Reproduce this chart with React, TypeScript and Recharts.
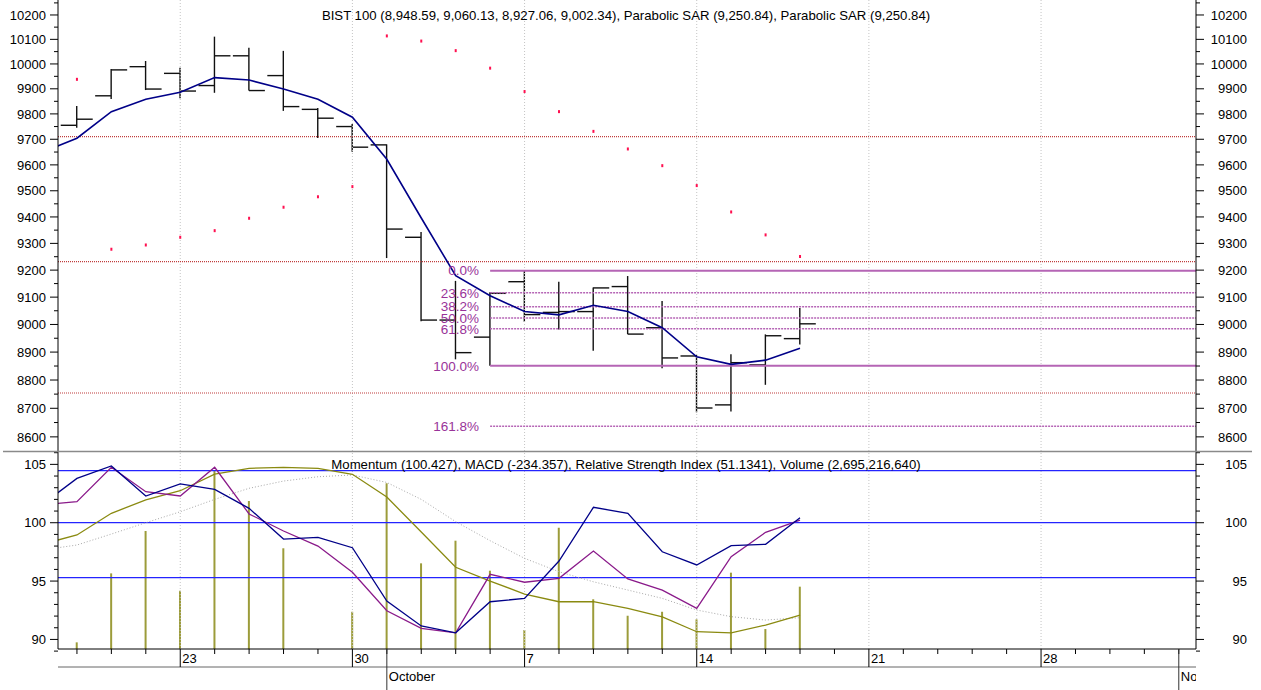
import React from "react";
import { ComposedChart, Line, Bar, Scatter, XAxis, YAxis, ReferenceLine } from "recharts";

// trading day index: 0 = Sep 18, 3 = Sep 23, 9 = Oct 1, 32 = Nov 1
const dayIndex = [-1, 0, 1, 2, 3, 4, 5, 6, 7, 8, 9, 10, 11, 12, 13, 14, 15, 16, 17, 18, 19, 20, 21];
const openPrice = [null, 9755, 9872, 9989, 9962, 9913, 10033, 9953, 9818, 9750, 9678, 9323, 9016, 8954, 9157, 9044, 9047, 9139, 8988, 8886, 8712, 8854, 8948.59];
const highPrice = [null, 9831, 9980, 10012, 9985, 10111, 10066, 10053, 9823, 9760, 9680, 9343, 9160, 9118, 9198, 9157, 9136, 9178, 9086, 8890, 8892, 8964, 9060.13];
const lowPrice = [null, 9745, 9859, 9895, 9862, 9884, 9893, 9812, 9705, 9651, 9245, 9012, 8874, 8851, 9010, 8982, 8905, 8965, 8842, 8686, 8689, 8783, 8927.06];
const closePrice = [null, 9779, 9976, 9899, 9891, 10033, 9893, 9829, 9783, 9669, 9354, 9016, 8898, 9114, 9036, 9047, 9134, 8965, 8879, 8701, 8862, 8959, 9002.34];
const movingAvg = [9650, 9704, 9809, 9858, 9886, 9945, 9935, 9899, 9858, 9787, 9622, 9396, 9179, 9105, 9047, 9035, 9070, 9047, 8988, 8883, 8856, 8871, 8914];
const parabolicSar = [null, 9938, 9278, 9294, 9323, 9348, 9395, 9437, 9477, 9516, 10114, 10093, 10054, 9983, 9889, 9809, 9731, 9662, 9597, 9520, 9419, 9332, 9250.84];

const momentum = [101.57, 103.8, 104.86, 102.29, 103.32, 102.86, 101.23, 98.6, 98.75, 97.86, 93.29, 91.15, 90.57, 93.23, 93.52, 96.72, 101.32, 100.81, 97.51, 96.38, 98.03, 98.15, 100.43];
const rsi = [101.55, 101.8, 104.75, 102.66, 102.29, 104.75, 100.75, 99.29, 98.0, 95.75, 92.46, 90.95, 90.57, 95.58, 94.9, 95.24, 97.57, 95.18, 94.23, 92.66, 97.09, 99.18, 100.23];
const macd = [98.17, 98.95, 100.81, 101.95, 102.74, 104.17, 104.66, 104.75, 104.66, 104.15, 102.2, 99.2, 96.18, 95.0, 93.89, 93.23, 93.23, 92.66, 91.94, 90.66, 90.57, 91.23, 92.09];
const macdSignal = [97.67, 98.09, 99.03, 100.0, 100.94, 102.0, 102.95, 103.57, 103.94, 104.09, 103.45, 102.0, 100.09, 98.46, 96.95, 95.8, 94.94, 94.23, 93.52, 92.52, 91.95, 91.66, 91.86];
const volume = [null, 89.75, 95.66, 99.29, 94.17, 104.46, 101.86, 97.81, null, 92.37, 103.38, 96.52, 98.46, 95.89, 90.81, 99.57, 93.44, 92.03, 92.37, 91.72, 95.72, 90.89, 94.52];

const fibLabels = ["0.0%", "23.6%", "38.2%", "50.0%", "61.8%", "100.0%", "161.8%"];
const fibValues = [9198, 9116, 9065, 9024, 8984, 8851, 8637];
const fibStart = 12;
const pivotLevels = [9710, 9232, 8754];
const bandLevels = [104.46, 100, 95.3];

const priceTicks = [8600, 8650, 8700, 8750, 8800, 8850, 8900, 8950, 9000, 9050, 9100, 9150, 9200, 9250, 9300, 9350, 9400, 9450, 9500, 9550, 9600, 9650, 9700, 9750, 9800, 9850, 9900, 9950, 10000, 10050, 10100, 10150, 10200, 10250];
const indicatorTicks = [89, 90, 91, 92, 93, 94, 95, 96, 97, 98, 99, 100, 101, 102, 103, 104, 105, 106];
const dayTicks = [0, 1, 2, 3, 4, 5, 6, 7, 8, 9, 10, 11, 12, 13, 14, 15, 16, 17, 18, 19, 20, 21, 22, 23, 24, 25, 26, 27, 28, 29, 30, 31, 32];
const weekStarts = [3, 8, 13, 18, 23, 28];
const weekLabels = ["23", "30", "7", "14", "21", "28"];
const monthStarts = [9, 32];
const monthLabels = ["October", "November"];

const priceTitle = "BIST 100 (8,948.59, 9,060.13, 8,927.06, 9,002.34), Parabolic SAR (9,250.84), Parabolic SAR (9,250.84)";
const indicatorTitle = "Momentum (100.427), MACD (-234.357), Relative Strength Index (51.1341), Volume (2,695,216,640)";

const priceData = dayIndex.map((i, k) => ({
  i,
  open: openPrice[k],
  high: highPrice[k],
  low: lowPrice[k],
  close: closePrice[k],
  range: lowPrice[k] == null ? null : [lowPrice[k], highPrice[k]],
  ma: movingAvg[k],
  sar: parabolicSar[k],
}));

const indicatorData = dayIndex.map((i, k) => ({
  i,
  momentum: momentum[k],
  rsi: rsi[k],
  macd: macd[k],
  signal: macdSignal[k],
  volume: volume[k],
}));

const X_DOMAIN: [number, number] = [-0.55, 32.5];
const FONT = 13;

function OhlcShape(props: any) {
  const { x, y, width, height, payload } = props;
  if (payload.high == null || !isFinite(y)) return null;
  const cx = x + width / 2;
  const lh = Math.log(payload.high);
  const ll = Math.log(payload.low);
  const toY = (v: number) => y + ((lh - Math.log(v)) / (lh - ll)) * height;
  const yo = toY(payload.open);
  const yc = toY(payload.close);
  return (
    <g stroke="#111" strokeWidth={1.4}>
      <line x1={cx} x2={cx} y1={y} y2={y + height} />
      <line x1={cx - 16} x2={cx} y1={yo} y2={yo} />
      <line x1={cx} x2={cx + 16} y1={yc} y2={yc} />
    </g>
  );
}

function SarDot(props: any) {
  const { cx, cy, payload } = props;
  if (payload.sar == null || !isFinite(cy)) return null;
  return <rect x={cx - 1} y={cy - 1.5} width={2} height={3} fill="#ff1050" />;
}

const makeYTick = (step: number, side: "left" | "right") => (props: any) => {
  const { x, y, payload } = props;
  const major = payload.value % step === 0;
  const len = major ? 8 : 4;
  const dir = side === "left" ? -1 : 1;
  return (
    <g>
      <line x1={x} x2={x + dir * len} y1={y} y2={y} stroke="#000" />
      {major && (
        <text
          x={side === "left" ? x - 12 : x + 51}
          y={y}
          dy="0.36em"
          textAnchor="end"
          fontSize={FONT}
          fill="#000"
        >
          {payload.value}
        </text>
      )}
    </g>
  );
};

function DayTick(props: any) {
  const { x, y, payload } = props;
  const w = weekStarts.indexOf(payload.value);
  return (
    <g>
      <line x1={x} x2={x} y1={y} y2={y + (w >= 0 ? 18 : 5)} stroke="#000" />
      {w >= 0 && (
        <text x={x + 2} y={y + 14} fontSize={FONT} fill="#000">
          {weekLabels[w]}
        </text>
      )}
    </g>
  );
}

function MonthTick(props: any) {
  const { x, y, payload } = props;
  const m = monthStarts.indexOf(payload.value);
  return (
    <g>
      <line x1={x} x2={x} y1={y - 18} y2={y + 23} stroke="#333" />
      <svg x={x} y={y} width={Math.max(0, 1196 - x)} height={23} overflow="hidden">
        <text x={2} y={14} fontSize={FONT} fill="#000">
          {monthLabels[m]}
        </text>
      </svg>
    </g>
  );
}

export default function App() {
  return (
    <div
      style={{
        position: "absolute",
        left: 0,
        top: 0,
        width: 1261,
        height: 690,
        background: "#fff",
        fontFamily: "'Liberation Sans', Arial, sans-serif",
      }}
    >
      <div style={{ position: "absolute", left: 0, top: 0 }}>
        <ComposedChart width={1261} height={451} data={priceData} margin={{ top: 0, right: 0, bottom: 0, left: 0 }}>
          <XAxis dataKey="i" type="number" domain={X_DOMAIN} allowDataOverflow hide />
          <YAxis
            yAxisId="p"
            orientation="left"
            scale="log"
            domain={[8551, 10262]}
            allowDataOverflow
            ticks={priceTicks}
            interval={0}
            width={58}
            tickSize={0}
            tickMargin={0}
            tickLine={false}
            axisLine={{ stroke: "#000" }}
            tick={makeYTick(100, "left")}
          />
          <YAxis
            yAxisId="pr"
            orientation="right"
            scale="log"
            domain={[8551, 10262]}
            allowDataOverflow
            ticks={priceTicks}
            interval={0}
            width={65}
            tickSize={0}
            tickMargin={0}
            tickLine={false}
            axisLine={{ stroke: "#000" }}
            tick={makeYTick(100, "right")}
          />
          {weekStarts.map((w) => (
            <ReferenceLine key={"g" + w} yAxisId="p" x={w} stroke="#c4c4c4" strokeDasharray="1 2" />
          ))}
          {pivotLevels.map((v) => (
            <ReferenceLine key={"pv" + v} yAxisId="p" y={v} stroke="#c03c3c" strokeWidth={1.2} strokeDasharray="1 1" />
          ))}
          {fibValues.map((v, k) => {
            const solid = fibLabels[k] === "0.0%" || fibLabels[k] === "100.0%";
            return (
              <ReferenceLine
                key={"f" + k}
                yAxisId="p"
                segment={[
                  { x: fibStart, y: v },
                  { x: X_DOMAIN[1], y: v },
                ]}
                stroke="#b565b5"
                strokeWidth={solid ? 2 : 1.5}
                strokeDasharray={solid ? undefined : "2 1"}
                label={{ value: fibLabels[k], position: "left", offset: 11, fill: "#993399", fontSize: 13.5 }}
              />
            );
          })}
          <Bar yAxisId="p" dataKey="range" barSize={32} shape={<OhlcShape />} isAnimationActive={false} />
          <Line yAxisId="p" type="linear" dataKey="ma" stroke="#000088" strokeWidth={1.6} dot={false} isAnimationActive={false} />
          <Scatter yAxisId="p" dataKey="sar" shape={<SarDot />} isAnimationActive={false} />
        </ComposedChart>
      </div>
      <div style={{ position: "absolute", left: 0, top: 451 }}>
        <ComposedChart width={1261} height={239} data={indicatorData} margin={{ top: 1, right: 0, bottom: 0, left: 0 }}>
          <XAxis
            xAxisId="d"
            dataKey="i"
            type="number"
            domain={X_DOMAIN}
            allowDataOverflow
            ticks={dayTicks}
            interval={0}
            height={18}
            tickSize={0}
            tickMargin={0}
            tickLine={false}
            axisLine={{ stroke: "#000" }}
            tick={<DayTick />}
          />
          <XAxis
            xAxisId="m"
            dataKey="i"
            type="number"
            domain={X_DOMAIN}
            allowDataOverflow
            ticks={monthStarts}
            interval={0}
            height={23}
            tickSize={0}
            tickMargin={0}
            tickLine={false}
            axisLine={{ stroke: "#666" }}
            tick={<MonthTick />}
          />
          <YAxis
            yAxisId="v"
            orientation="left"
            domain={[89.18, 106.06]}
            allowDataOverflow
            ticks={indicatorTicks}
            interval={0}
            width={58}
            tickSize={0}
            tickMargin={0}
            tickLine={false}
            axisLine={{ stroke: "#000" }}
            tick={makeYTick(5, "left")}
          />
          <YAxis
            yAxisId="vr"
            orientation="right"
            domain={[89.18, 106.06]}
            allowDataOverflow
            ticks={indicatorTicks}
            interval={0}
            width={65}
            tickSize={0}
            tickMargin={0}
            tickLine={false}
            axisLine={{ stroke: "#000" }}
            tick={makeYTick(5, "right")}
          />
          {weekStarts.map((w) => (
            <ReferenceLine key={"g" + w} xAxisId="d" yAxisId="v" x={w} stroke="#c4c4c4" strokeDasharray="1 2" />
          ))}
          {bandLevels.map((v) => (
            <ReferenceLine key={"b" + v} xAxisId="d" yAxisId="v" y={v} stroke="#2424ff" strokeWidth={1.3} />
          ))}
          <Bar xAxisId="d" yAxisId="v" dataKey="volume" barSize={2} fill="#9c9c3a" isAnimationActive={false} />
          <Line xAxisId="d" yAxisId="v" type="linear" dataKey="signal" stroke="#a8a8a8" strokeDasharray="1 2" strokeWidth={1} dot={false} isAnimationActive={false} />
          <Line xAxisId="d" yAxisId="v" type="linear" dataKey="macd" stroke="#8a8a10" strokeWidth={1.3} dot={false} isAnimationActive={false} />
          <Line xAxisId="d" yAxisId="v" type="linear" dataKey="rsi" stroke="#8a1a8a" strokeWidth={1.3} dot={false} isAnimationActive={false} />
          <Line xAxisId="d" yAxisId="v" type="linear" dataKey="momentum" stroke="#000088" strokeWidth={1.3} dot={false} isAnimationActive={false} />
        </ComposedChart>
      </div>
      <svg
        width={1261}
        height={690}
        style={{ position: "absolute", left: 0, top: 0, pointerEvents: "none" }}
      >
        <line x1={3} x2={1252} y1={451.5} y2={451.5} stroke="#8a8a8a" strokeWidth={1.5} />
        <text x={626} y={15} dy="0.36em" textAnchor="middle" fontSize={13.2} fill="#000">
          {priceTitle}
        </text>
        <text x={626} y={464} dy="0.36em" textAnchor="middle" fontSize={13.2} fill="#000">
          {indicatorTitle}
        </text>
      </svg>
    </div>
  );
}
